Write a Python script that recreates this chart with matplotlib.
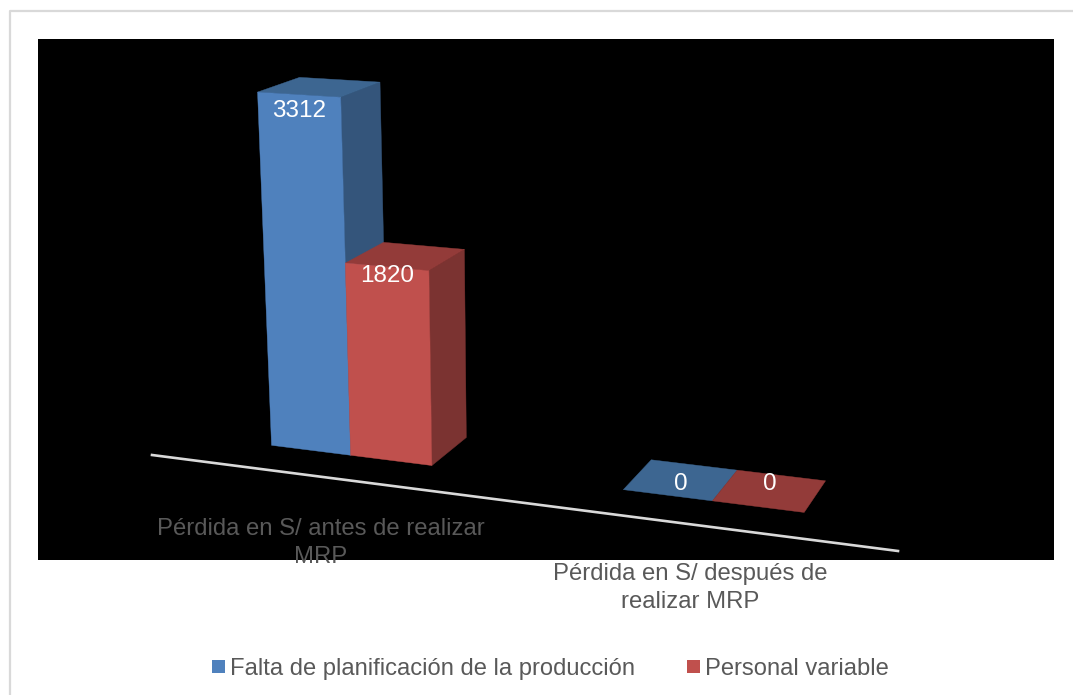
import matplotlib
matplotlib.use('Agg')
import matplotlib.pyplot as plt
from matplotlib.patches import Polygon, Rectangle, Patch
import numpy as np

plt.rcParams['font.family'] = ['Liberation Sans', 'DejaVu Sans']

# data
categories = ['Pérdida en S/ antes de realizar\nMRP', 'Pérdida en S/ después de\nrealizar MRP']
series_names = ['Falta de planificación de la producción', 'Personal variable']
falta_values = [3312, 0]
personal_values = [1820, 0]

# colores: frente, tapa, lado
blue = ['#4F81BD', '#3D6691', '#34557B']
red = ['#C0504D', '#933B39', '#7B3331']
text_grey = '#595959'

# perspectiva del piso: (u, d) -> pixel, u = ancho de barra, d = fondo
s = 4.25
src = [(0, 0), (1, 0), (2, 0), (s, 0), (s + 1, 0), (s + 2, 0),
       (0, 1), (1, 1), (2, 1), (s, 1), (s + 1, 1), (s + 2, 1)]
dst = [(271, 445), (351, 455), (433, 466), (622, 489), (712, 501), (805, 513),
       (310, 419), (388, 428), (468, 438), (650, 459), (737, 470), (826, 481)]
A, b = [], []
for (u, d), (px, py) in zip(src, dst):
    A.append([u, d, 1, 0, 0, 0, -u * px, -d * px])
    A.append([0, 0, 0, u, d, 1, -u * py, -d * py])
    b += [px, py]
H = np.append(np.linalg.lstsq(np.array(A, float), np.array(b, float), rcond=None)[0], 1).reshape(3, 3)


def project(u, d, v):
    x, y, w = H @ np.array([u, d, 1.0])
    x, y = x / w, y / w
    h = 0.1027 * v / (1 - 1.51e-5 * v)  # altura en pixeles
    h = h * (1 + (x - 351) * 1.7e-4) * (1 - 0.04 * d)
    return x + h * (x - 535) * 0.00015, y - h


def draw_bar(ax, u, value, colors):
    u2 = u + 1
    if value > 0:
        side = [project(u2, 0, 0), project(u2, 1, 0), project(u2, 1, value), project(u2, 0, value)]
        ax.add_patch(Polygon(side, closed=True, fc=colors[2], ec=colors[2], lw=0.3, zorder=3))
    top = [project(u, 0, value), project(u2, 0, value), project(u2, 1, value), project(u, 1, value)]
    ax.add_patch(Polygon(top, closed=True, fc=colors[1], ec=colors[1], lw=0.3, zorder=3))
    if value > 0:
        front = [project(u, 0, 0), project(u2, 0, 0), project(u2, 0, value), project(u, 0, value)]
        ax.add_patch(Polygon(front, closed=True, fc=colors[0], ec=colors[0], lw=0.3, zorder=3))


fig = plt.figure(figsize=(10.73, 6.95), dpi=100)
ax = fig.add_axes([0, 0, 1, 1])
ax.set_xlim(0, 1073)
ax.set_ylim(695, 0)
ax.axis('off')

# marco y fondo negro
ax.plot([9.5, 9.5, 1073], [695, 11, 11], color='#D9D9D9', lw=1.6, zorder=1)
ax.add_patch(Rectangle((38, 39), 1016, 521, fc='black', ec='none', zorder=2))

# eje de categorias
ax.plot([152, 898], [455, 551], color='#D9D9D9', lw=1.9, zorder=3)

# barras
for i in range(len(categories)):
    u0 = i * s
    draw_bar(ax, u0, falta_values[i], blue)
    draw_bar(ax, u0 + 1, personal_values[i], red)

# etiquetas de datos
label_dy = [[16, 9.5], [4, -7]]
for i in range(len(categories)):
    u0 = i * s
    for j, vals in enumerate([falta_values, personal_values]):
        x, y = project(u0 + j + 0.5, 0.5 if vals[i] == 0 else 0, vals[i])
        ax.text(x, y + label_dy[i][j], str(vals[i]), color='white', fontsize=17.5,
                ha='center', va='center', zorder=5)

# etiquetas de categorias
label_pos = [(321, 543), (690, 588)]
for lab, (x, y) in zip(categories, label_pos):
    ax.text(x, y, lab, color=text_grey, fontsize=17.2, ha='center', va='center',
            linespacing=1.34, zorder=5)

# leyenda
handles = [Patch(fc=blue[0], ec='none'), Patch(fc=red[0], ec='none')]
ax.legend(handles, series_names, loc='center', bbox_to_anchor=(550.5, 669),
          bbox_transform=ax.transData, ncol=2, frameon=False, fontsize=17.15,
          labelcolor=text_grey, handlelength=0.52, handleheight=0.52,
          handletextpad=0.22, columnspacing=2.2, borderpad=0)

plt.savefig('out.png', dpi=100)
